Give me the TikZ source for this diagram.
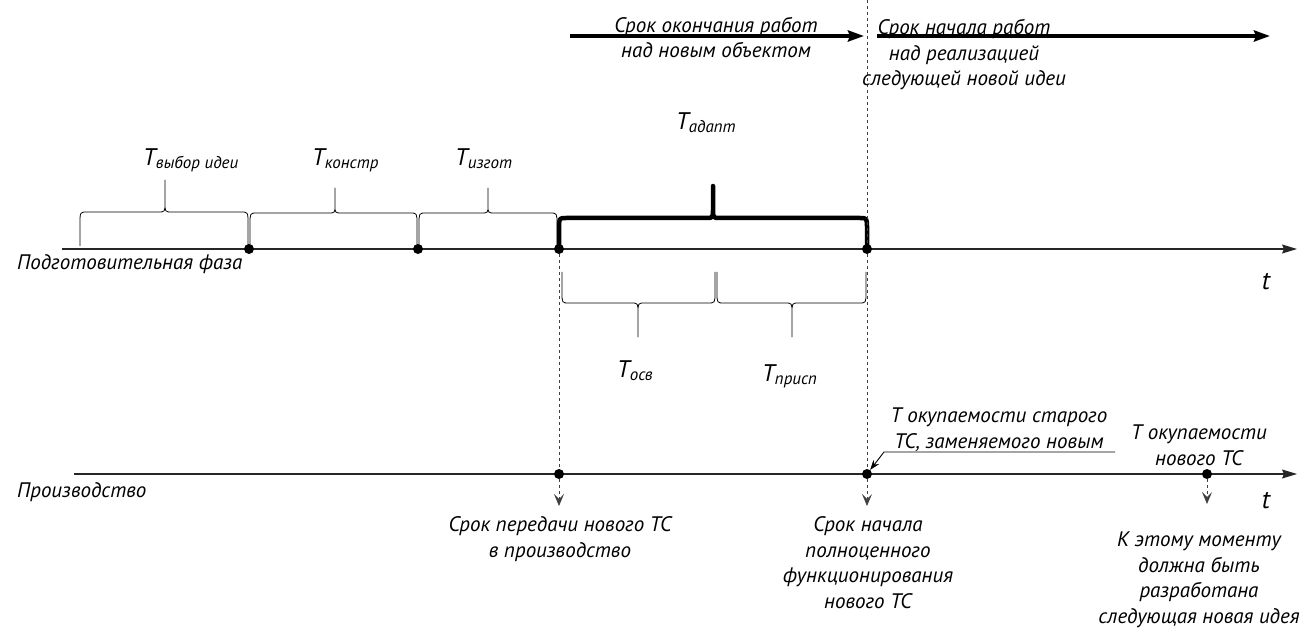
\documentclass[tikz,border=0pt]{standalone}
\usepackage{fontspec}
\setmainfont{PT Sans}
\usetikzlibrary{arrows.meta,positioning}

% T with a lowered index
\newcommand{\Tsub}[1]{{\fontsize{24}{24}\selectfont T}\raisebox{-3pt}{\fontsize{17}{17}\selectfont #1}}
% brace: [style] x-left, x-right, x-tip, y-ends, y-bar, y-tip
\newcommand{\tbrace}[7][]{%
  \draw[line join=round,#1] (#2,#5) -- (#2,{#6+0.35*(#5-#6)})
    .. controls (#2,#6) .. ({#2+7},#6) -- ({#4-7},#6)
    .. controls (#4,#6) .. (#4,{#6+0.3*(#7-#6)}) -- (#4,#7)
    -- (#4,{#6+0.3*(#7-#6)}) .. controls (#4,#6) .. ({#4+7},#6)
    -- ({#3-7},#6) .. controls (#3,#6) .. (#3,{#6+0.35*(#5-#6)}) -- (#3,#5);}

\begin{document}
\begin{tikzpicture}[x=1pt,y=-1pt,
    dot/.style={circle,fill=black,inner sep=0pt,minimum size=10pt},
    axis/.style={line width=1.1pt,black!85,-{Stealth[length=15pt,width=9pt,inset=2pt]}},
    toparr/.style={line width=3.5pt,-{Stealth[length=16pt,width=11pt,inset=2pt]}},
    guide/.style={dash pattern=on 3pt off 3pt,black!75,line width=0.8pt},
    guidearr/.style={guide,-{Stealth[length=12pt,width=10pt,inset=5pt]}},
    brc/.style={line width=0.8pt},
    lbl/.style={font=\itshape\fontsize{21}{25.5}\selectfont,align=center,inner sep=0pt},
    tlbl/.style={font=\itshape,inner sep=0pt,anchor=base west}]
\useasboundingbox (0,0) rectangle (1306,628);

% axes
\coordinate (a0) at (62,249);
\coordinate (a1) at (1297,249);
\coordinate (b0) at (74,474);
\coordinate (b1) at (1297,474);
\draw[axis] (a0) -- (a1);
\draw[axis] (b0) -- (b1);
\node[lbl,anchor=base] (t1) at (1266,290) {\fontsize{26}{26}\selectfont t};
\node[lbl,anchor=base] (t2) at (1266,508) {\fontsize{26}{26}\selectfont t};
\node[lbl,anchor=base west] (prep) at (17,270) {Подготовительная фаза};
\node[lbl,anchor=base west] (prod) at (17,497) {Производство};

% braces
\tbrace[brc]{80}{248}{165}{246}{212}{180}
\tbrace[brc]{250}{417}{335}{246}{213}{188}
\tbrace[brc]{419}{557}{488}{246}{213}{188}
\tbrace[line width=4.5pt]{559}{867}{713}{249}{218}{186}
\tbrace[brc]{562}{715}{638}{272}{303}{337}
\tbrace[brc]{717}{866}{792}{272}{303}{337}

\node[tlbl] (tvyb) at (143,166) {\Tsub{выбор идеи}};
\node[tlbl] (tkon) at (312,166) {\Tsub{констр}};
\node[tlbl] (tizg) at (455,166) {\Tsub{изгот}};
\node[tlbl] (tada) at (676,130) {\Tsub{адапт}};
\node[tlbl] (tosv) at (617,377) {\Tsub{осв}};
\node[tlbl] (tpri) at (762,381) {\Tsub{присп}};

% points
\path (249,249) node[dot] (d1) {}
      (418,249) node[dot] (d2) {}
      (559,249) node[dot] (d3) {}
      (867,249) node[dot] (d4) {}
      (559,474) node[dot] (m1) {}
      (867,474) node[dot] (m2) {}
      (1207,474) node[dot] (m3) {};

% guide lines
\coordinate (top) at (867,0);
\coordinate (e1) at (559,506);
\coordinate (e2) at (867,506);
\coordinate (e3) at (1207,504);
\draw[guide] (top) -- (d4);
\draw[guide] (d4) -- (m2);
\draw[guidearr] (m2) -- (e2);
\draw[guide] (d3) -- (m1);
\draw[guidearr] (m1) -- (e1);
\draw[guidearr] (m3) -- (e3);

% top arrows
\coordinate (s0) at (570,36);
\coordinate (s1) at (864,36);
\coordinate (s2) at (877,36);
\coordinate (s3) at (1270,36);
\draw[toparr] (s0) -- (s1);
\draw[toparr] (s2) -- (s3);
\node[lbl,anchor=base] (fin) at (716,58) {Срок окончания работ\\над новым объектом};
\node[lbl,anchor=base] (beg) at (964,86) {Срок начала работ\\над реализацией\\следующей новой идеи};

% bottom notes
\node[lbl,anchor=base] (pass) at (560,557) {Срок передачи нового ТС\\в производство};
\node[lbl,anchor=base] (full) at (868,608) {Срок начала\\полноценного\\функционирования\\нового ТС};
\node[lbl,anchor=base] (next) at (1199,623) {К этому моменту\\должна быть\\разработана\\следующая новая идея};
\node[lbl,anchor=base] (old) at (999,448) {Т окупаемости старого\\ТС, заменяемого новым};
\node[lbl,anchor=base] (new) at (1199,465) {Т окупаемости\\нового ТС};
\coordinate (u0) at (884,452);
\coordinate (u1) at (1115,452);
\draw[line width=0.9pt,-{Stealth[length=10pt,width=7pt]}] (u1) -- (u0) -- (m2);
\end{tikzpicture}
\end{document}
